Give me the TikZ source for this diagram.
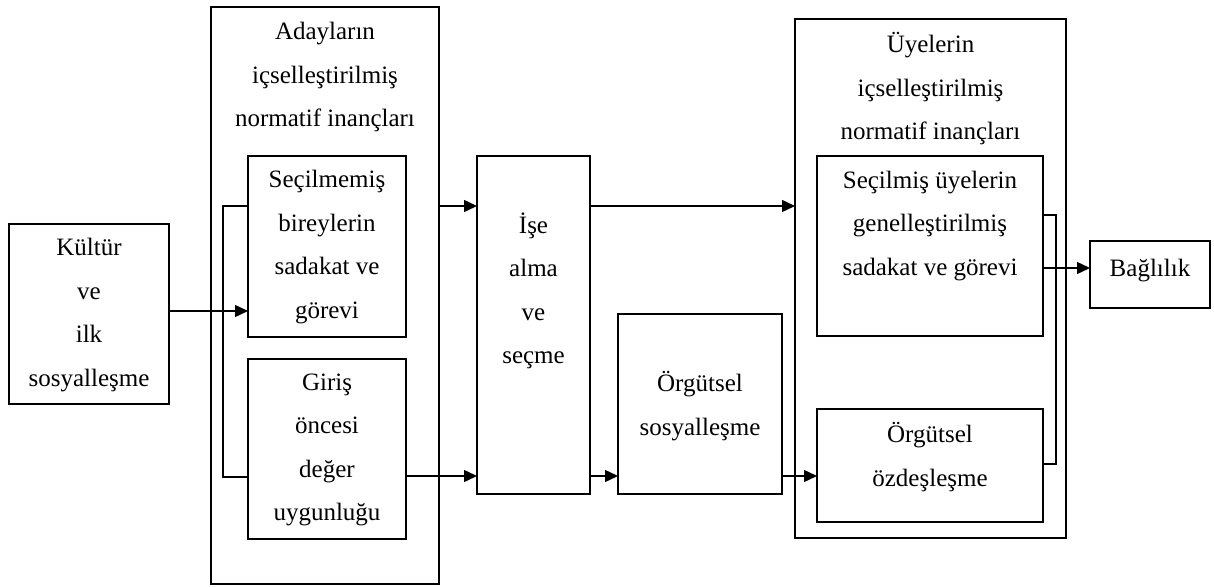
\documentclass[tikz,border=0pt]{standalone}
\usepackage{fontspec}
\setmainfont{Liberation Serif}
\usetikzlibrary{arrows.meta}
\begin{document}
\begin{tikzpicture}[x=1pt,y=-1pt,
  bx/.style={draw,line width=1.4pt,rectangle,inner sep=0pt,outer sep=0pt},
  txt/.style={align=center,inner sep=0pt,font=\fontsize{25}{43.5}\selectfont},
  arr/.style={line width=1.4pt,-{Triangle[length=13pt,width=12pt]}},
  ln/.style={line width=1.4pt}]
\useasboundingbox (0,0) rectangle (1214,586);
% boxes
\node[bx,minimum width=160pt,minimum height=180pt] (kultur) at (89,314) {};
\node[bx,minimum width=228pt,minimum height=577pt] (aday) at (325,295.5) {};
\node[bx,minimum width=158pt,minimum height=181pt] (secmemis) at (327,246.5) {};
\node[bx,minimum width=158pt,minimum height=180pt] (giris) at (327,449) {};
\node[bx,minimum width=113pt,minimum height=338pt] (ise) at (533.5,325) {};
\node[bx,minimum width=164pt,minimum height=180pt] (sosyal) at (700,404) {};
\node[bx,minimum width=271pt,minimum height=519pt] (uye) at (930.5,278.5) {};
\node[bx,minimum width=226pt,minimum height=180pt] (secilmis) at (930,246) {};
\node[bx,minimum width=226pt,minimum height=113pt] (ozdes) at (930,465.5) {};
\node[bx,minimum width=120pt,minimum height=67pt] (bag) at (1150,274.5) {};
% texts
\node[txt] (tkultur) at (89,315) {Kültür\\ve\\ilk\\sosyalleşme};
\node[txt] (taday) at (325,77) {Adayların\\içselleştirilmiş\\normatif inançları};
\node[txt] (tsecmemis) at (327,247) {Seçilmemiş\\bireylerin\\sadakat ve\\görevi};
\node[txt] (tgiris) at (327,450) {Giriş\\öncesi\\değer\\uygunluğu};
\node[txt] (tise) at (533.5,291) {İşe\\alma\\ve\\seçme};
\node[txt] (tsosyal) at (700,406) {Örgütsel\\sosyalleşme};
\node[txt] (tuye) at (930.5,89) {Üyelerin\\içselleştirilmiş\\normatif inançları};
\node[txt] (tsecilmis) at (930,226) {Seçilmiş üyelerin\\genelleştirilmiş\\sadakat ve görevi};
\node[txt] (tozdes) at (930,457) {Örgütsel\\özdeşleşme};
\node[txt] (tbag) at (1150,271) {Bağlılık};
% connectors
\draw[arr] (kultur.east |- 0,311) -- (secmemis.west |- 0,311);
\draw[ln] (secmemis.west |- 0,206) -- (223,206) |- (giris.west |- 0,477);
\draw[arr] (aday.east |- 0,206) -- (ise.west |- 0,206);
\draw[arr] (giris.east |- 0,476) -- (ise.west |- 0,476);
\draw[arr] (ise.east |- 0,206) -- (uye.west |- 0,206);
\draw[arr] (ise.east |- 0,476) -- (sosyal.west |- 0,476);
\draw[arr] (sosyal.east |- 0,476) -- (ozdes.west |- 0,476);
\draw[ln] (secilmis.east |- 0,215) -- (1056,215) |- (ozdes.east |- 0,464);
\draw[arr] (secilmis.east |- 0,268) -- (bag.west |- 0,268);
\end{tikzpicture}
\end{document}
